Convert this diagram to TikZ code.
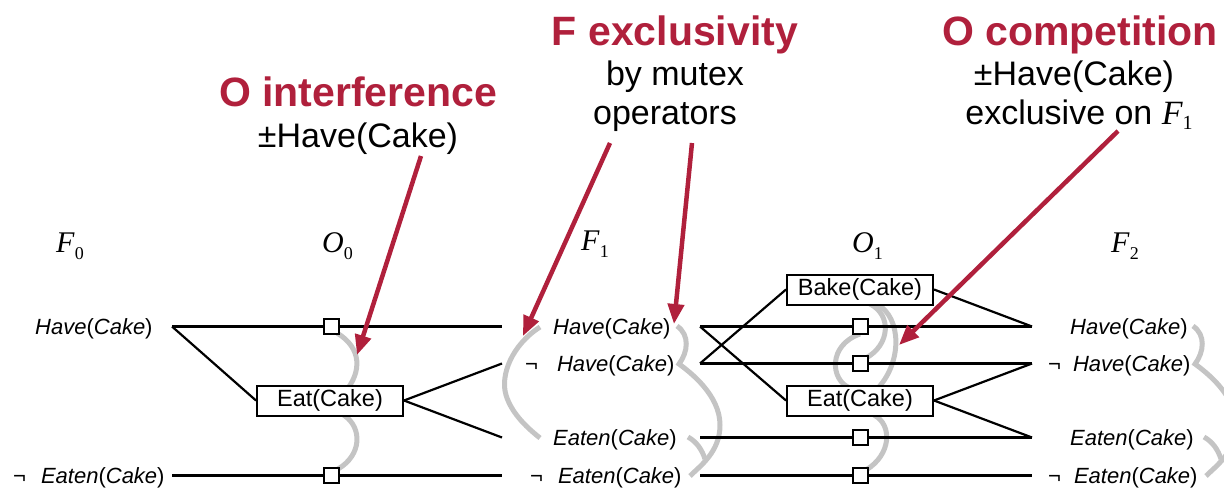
\documentclass[tikz,border=0pt]{standalone}
\usepackage{fontspec}
\setmainfont{Liberation Sans}
\newfontfamily\tms{Liberation Serif}
\usetikzlibrary{arrows.meta}
\definecolor{accent}{RGB}{176,32,60}
\definecolor{mutexgray}{RGB}{196,196,196}
% proposition with italic predicate and argument
\newcommand\prop[2]{\textit{#1}(\textit{#2})}
% level label such as F_0 / O_1
\newcommand\lvl[2]{{\tms\fontsize{30}{30}\selectfont\textit{#1}\raisebox{-7pt}{\fontsize{18}{18}\selectfont #2}}}
\begin{document}
\begin{tikzpicture}[x=1pt,y=-1pt,
  fact/.style={anchor=base west, inner sep=0pt, font=\fontsize{22}{22}\selectfont},
  level/.style={anchor=base west, inner sep=0pt},
  opbox/.style={draw, line width=2pt, fill=white, minimum width=146pt, minimum height=30pt, inner sep=0pt, font=\fontsize{23.5}{24}\selectfont},
  noop/.style={draw, line width=2pt, fill=white, minimum size=15pt, inner sep=0pt},
  link/.style={line width=2.2pt},
  mutex/.style={line width=5pt, draw=mutexgray},
  callout/.style={line width=4.5pt, draw=accent, -{Triangle[length=20pt,width=16pt,fill=accent]}},
  heading/.style={anchor=base, inner sep=0pt, text=accent, font=\bfseries\fontsize{41}{41}\selectfont},
  note/.style={anchor=base, inner sep=0pt, font=\fontsize{34}{34}\selectfont},
]
\useasboundingbox (0,0) rectangle (1224,490);
\clip (0,0) rectangle (1224,490);

% ---- level headings
\node[level] (hF0) at (56,252) {\lvl{F}{0}};
\node[level] (hO0) at (322,252) {\lvl{O}{0}};
\node[level] (hF1) at (581,250) {\lvl{F}{1}};
\node[level] (hO1) at (852,252) {\lvl{O}{1}};
\node[level] (hF2) at (1111,252) {\lvl{F}{2}};

% ---- fact labels
\node[fact] (a0h)  at (35,334)   {\prop{Have}{Cake}};
\node[fact] (a0ne) at (13,483)   {¬\hspace{15pt}\prop{Eaten}{Cake}};
\node[fact] (a1h)  at (553,334)  {\prop{Have}{Cake}};
\node[fact] (a1nh) at (525,371)  {¬\hspace{19pt}\prop{Have}{Cake}};
\node[fact] (a1e)  at (553,445)  {\prop{Eaten}{Cake}};
\node[fact] (a1ne) at (530,483)  {¬\hspace{15pt}\prop{Eaten}{Cake}};
\node[fact] (a2h)  at (1070,334) {\prop{Have}{Cake}};
\node[fact] (a2nh) at (1048,371) {¬\hspace{12pt}\prop{Have}{Cake}};
\node[fact] (a2e)  at (1070,445) {\prop{Eaten}{Cake}};
\node[fact] (a2ne) at (1048,483) {¬\hspace{13pt}\prop{Eaten}{Cake}};

% ---- line end points
\coordinate (p0h)  at (172,326.5);
\coordinate (p0ne) at (172,475.5);
\coordinate (q1h)  at (502,326.5);
\coordinate (q1nh) at (502,363.5);
\coordinate (q1e)  at (502,437.5);
\coordinate (q1ne) at (502,475.5);
\coordinate (p1h)  at (700,326.5);
\coordinate (p1nh) at (700,363.5);
\coordinate (p1e)  at (700,437.5);
\coordinate (p1ne) at (700,475.5);
\coordinate (q2h)  at (1032,326.5);
\coordinate (q2nh) at (1032,363.5);
\coordinate (q2e)  at (1032,437.5);
\coordinate (q2ne) at (1032,475.5);

% ---- mutex links (grey)
% O0: Eat vs. persistence
\draw[mutex] (337,333) .. controls (362,348) and (362,372) .. (345,392)
             .. controls (335,405) and (336,410) .. (345,416)
             .. controls (362,428) and (362,455) .. (338,469);
% F1 left: Have vs. Eaten
\draw[mutex] (540,327) .. controls (512,345) and (500,375) .. (506,395)
             .. controls (512,415) and (530,430) .. (540,438);
% F1 right brace
\draw[mutex] (677,326) .. controls (690,335) and (688,352) .. (679,364)
             .. controls (690,372) and (720,395) .. (720,425)
             .. controls (720,452) and (700,466) .. (690,476);
\draw[mutex] (688,437) .. controls (697,442) and (702,450) .. (705,459);
% F2 right brace
\draw[mutex] (1193,326) .. controls (1206,335) and (1204,352) .. (1195,364)
             .. controls (1206,372) and (1236,395) .. (1236,425)
             .. controls (1236,452) and (1216,466) .. (1206,476);
\draw[mutex] (1204,437) .. controls (1213,442) and (1218,450) .. (1221,459);
% O1 operator mutexes
\draw[mutex] (877,304) .. controls (902,318) and (902,362) .. (878,388);
\draw[mutex] (870,304) .. controls (892,315) and (890,345) .. (866,358);
\draw[mutex] (860,334) .. controls (828,345) and (830,380) .. (850,388);
\draw[mutex] (874,415) .. controls (893,425) and (891,455) .. (866,470);

% ---- operators
\node[opbox] (eat0) at (330,400.5) {Eat(Cake)};
\node[opbox] (bake1) at (860,289.5) {Bake(Cake)};
\node[opbox] (eat1) at (860,400.5) {Eat(Cake)};

% ---- links level 0
\draw[link] (p0h) -- (q1h);
\draw[link] (p0ne) -- (q1ne);
\draw[link] (p0h) -- (eat0.west);
\draw[link] (eat0.east) -- (q1nh);
\draw[link] (eat0.east) -- (q1e);

% ---- links level 1
\draw[link] (p1h) -- (q2h);
\draw[link] (p1nh) -- (q2nh);
\draw[link] (p1e) -- (q2e);
\draw[link] (p1ne) -- (q2ne);
\draw[link] (p1h) -- (eat1.west);
\draw[link] (p1nh) -- (bake1.west);
\draw[link] (bake1.east) -- (q2h);
\draw[link] (eat1.east) -- (q2nh);
\draw[link] (eat1.east) -- (q2e);

% ---- persistence (no-op) actions
\node[noop] (n0h)  at (331,326.5) {};
\node[noop] (n0ne) at (331,475.5) {};
\node[noop] (n1h)  at (860,326.5) {};
\node[noop] (n1nh) at (860,363.5) {};
\node[noop] (n1e)  at (860,437.5) {};
\node[noop] (n1ne) at (860,475.5) {};

% ---- annotations
\node[heading] (tOI) at (358,106) {O interference};
\node[note] (sOI) at (358,147) {±Have(Cake)};
\node[heading] (tFE) at (675,45) {F exclusivity};
\node[note] (sFE1) at (675,85) {by mutex};
\node[note] (sFE2) at (665,124) {operators};
\node[heading] (tOC) at (1080,45) {O competition};
\node[note] (sOC1) at (1074,85) {±Have(Cake)};
\node[note] (sOC2) at (1079,124) {exclusive on {\tms\itshape F}\raisebox{-5pt}{\tms\fontsize{20}{20}\selectfont 1}};

\coordinate (c1s) at (421,156);
\coordinate (c1e) at (357,355);
\coordinate (c2s) at (610,143);
\coordinate (c2e) at (523,336);
\coordinate (c3s) at (692,143);
\coordinate (c3e) at (674,324);
\coordinate (c4s) at (1118,131);
\coordinate (c4e) at (899,345);
\draw[callout] (c1s) -- (c1e);
\draw[callout] (c2s) -- (c2e);
\draw[callout] (c3s) -- (c3e);
\draw[callout] (c4s) -- (c4e);
\end{tikzpicture}
\end{document}
